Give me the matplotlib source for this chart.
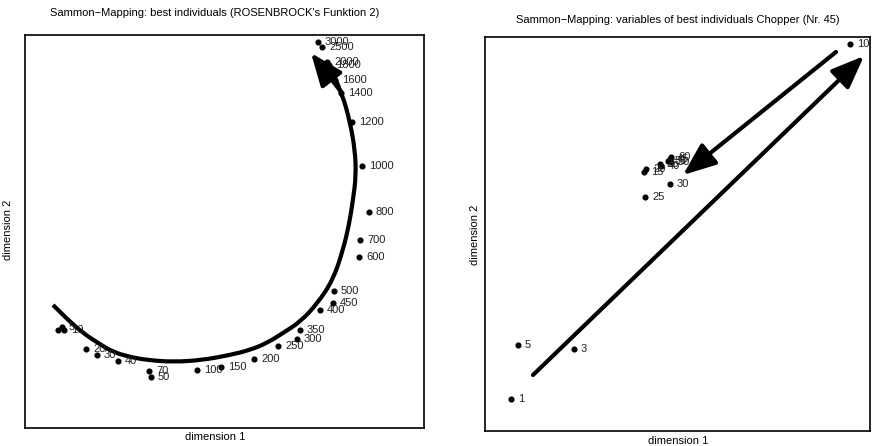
import matplotlib
matplotlib.use("Agg")
import matplotlib.pyplot as plt
from matplotlib.patches import FancyArrowPatch, PathPatch
from matplotlib.path import Path

plt.rcParams['font.family'] = ['Liberation Sans', 'DejaVu Sans']

H = 446.0
# ---- left panel: best individuals (generation labels) ----
left_labels = ["", "5", "10", "20", "30", "40", "50", "70", "100", "150", "200", "250",
               "300", "350", "400", "450", "500", "600", "700", "800", "1000", "1200",
               "1400", "1600", "1800", "2000", "2500", "3000"]
left_x = [58, 62, 64, 86, 97, 118, 151, 149, 197, 221, 254, 278, 297, 300, 320, 333, 334,
          359, 360, 369, 362, 352, 341, 335, 329, 327, 322, 318]
left_y = [116, 119, 116, 97, 91, 85, 69, 75, 76, 79, 87, 100, 107, 116, 136, 143, 155,
          189, 206, 234, 280, 324, 353, 366, 381, 384, 399, 404]

# arc annotation (trend of the evolution), control points
arc_x = [53, 68, 83, 98, 113, 130, 147, 173, 203, 230, 250, 267, 283, 300, 317, 333, 343,
         349, 353, 356, 355, 350, 342, 334]
arc_y = [141, 126, 113, 103, 94, 89, 86, 84, 86, 91, 96, 103, 113, 124, 142, 166, 196,
         221, 246, 270, 296, 324, 353, 370]
arc_tip = (311, 393)

# ---- right panel: variables of best individuals ----
right_labels = ["1", "3", "5", "10", "15", "20", "25", "30", "35", "40", "45", "50", "55", "60"]
right_x = [511, 574, 518, 850, 644, 646, 645, 670, 660, 661, 670, 671, 668, 671]
right_y = [47, 97, 101, 402, 274, 277, 249, 262, 282, 280, 287, 284, 285, 289]

arrow1_start, arrow1_end = (533, 71), (864, 390)
arrow2_start, arrow2_end = (836, 394), (683, 271)

fig = plt.figure(figsize=(8.75, 4.46), dpi=100)

axL = fig.add_axes([25/875, 18/446, 399/875, 393/446])
axR = fig.add_axes([485/875, 15/446, 385/875, 394/446])

axL.set_xlim(25, 424)
axL.set_ylim(H - 428, H - 35)
axR.set_xlim(485, 870)
axR.set_ylim(H - 431, H - 37)

for ax in (axL, axR):
    ax.set_xticks([])
    ax.set_yticks([])
    for s in ax.spines.values():
        s.set_linewidth(1.2)

def pts(ax, xs, ys, labs):
    ax.plot(xs, ys, 'o', color='black', markersize=3.4, linestyle='none')
    for x, y, l in zip(xs, ys, labs):
        if l:
            ax.annotate(l, (x, y), xytext=(5, 0), textcoords='offset points',
                        ha='left', va='center', fontsize=8, color='#222222')

pts(axL, left_x, left_y, left_labels)
pts(axR, right_x, right_y, right_labels)

# smooth quadratic B-spline path through the control points
verts = [(arc_x[0], arc_y[0])]
codes = [Path.MOVETO]
n = len(arc_x)
for i in range(1, n - 1):
    mid = ((arc_x[i] + arc_x[i + 1]) / 2, (arc_y[i] + arc_y[i + 1]) / 2)
    if i == n - 2:
        mid = (arc_x[-1], arc_y[-1])
    verts += [(arc_x[i], arc_y[i]), mid]
    codes += [Path.CURVE3, Path.CURVE3]
axL.add_patch(PathPatch(Path(verts, codes), facecolor='none', edgecolor='black',
                        linewidth=3.0, capstyle='butt'))
axL.add_patch(FancyArrowPatch((arc_x[-2], arc_y[-2]), arc_tip,
                              arrowstyle='-|>,head_length=20,head_width=8',
                              mutation_scale=1, color='black', linewidth=3.0,
                              shrinkA=0, shrinkB=0))

for a, b in ((arrow1_start, arrow1_end), (arrow2_start, arrow2_end)):
    axR.add_patch(FancyArrowPatch(a, b,
                                  arrowstyle='-|>,head_length=20,head_width=8',
                                  mutation_scale=1, color='black', linewidth=3.0,
                                  shrinkA=0, shrinkB=0))

fs = 8.0
fig.text(215/875, 1 - 13/446, "Sammon\u2212Mapping: best individuals (ROSENBROCK's Funktion 2)",
         ha='center', va='center', fontsize=fs)
fig.text(678/875, 1 - 20/446, "Sammon\u2212Mapping: variables of best individuals Chopper (Nr. 45)",
         ha='center', va='center', fontsize=fs)
fig.text(215/875, 1 - 437/446, "dimension 1", ha='center', va='center', fontsize=fs)
fig.text(678/875, 1 - 441/446, "dimension 1", ha='center', va='center', fontsize=fs)
fig.text(8/875, 1 - 230/446, "dimension 2", ha='center', va='center', fontsize=fs, rotation=90)
fig.text(475/875, 1 - 235/446, "dimension 2", ha='center', va='center', fontsize=fs, rotation=90)

fig.savefig("out.png", dpi=100)
